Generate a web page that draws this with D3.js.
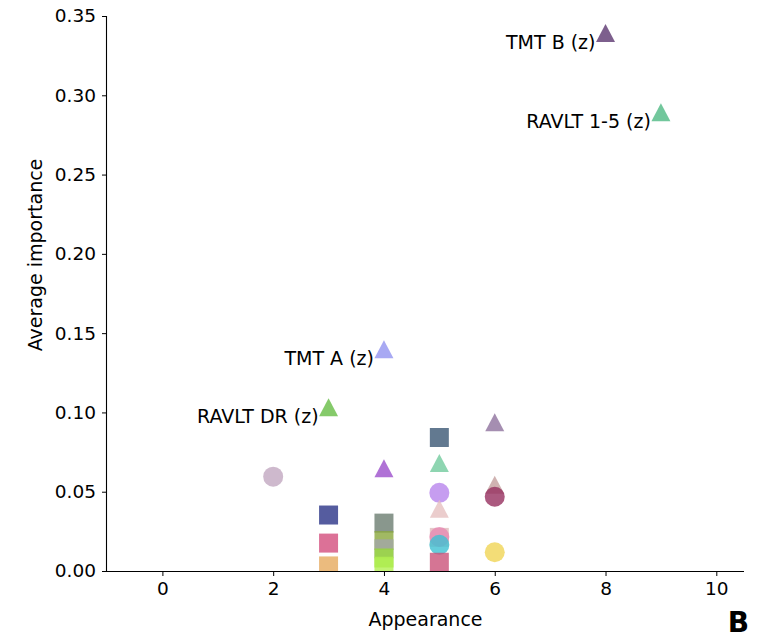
<!DOCTYPE html>
<html>
<head>
<meta charset="utf-8">
<script src="https://cdn.jsdelivr.net/npm/d3@7"></script>
<style>
  html, body { margin: 0; padding: 0; background: #fff; }
  svg { display: block; }
  text { font-family: "DejaVu Sans", sans-serif; fill: #000; }
</style>
</head>
<body>
<svg id="chart" width="762" height="638"></svg>
<script>
// Feature importance vs. number of appearances
const names = [
  "TMT B (z)", "RAVLT 1-5 (z)", "TMT A (z)", "RAVLT DR (z)",
  "", "", "", "",
  "", "", "", "", "", "",
  "", "", "", "", "", "", "", "",
  "", "", "", ""
];
const appearance = [
  8, 9, 4, 3,
  2, 3, 3, 3,
  4, 4, 4, 4, 4, 4,
  5, 5, 5, 5, 5, 5, 5, 5,
  6, 6, 6, 6
];
const importance = [
  0.339, 0.289, 0.1395, 0.103,
  0.0595, 0.0353, 0.0176, 0.0032,
  0.0645, 0.0302, 0.0192, 0.0140, 0.0082, 0.0030,
  0.0842, 0.0678, 0.0493, 0.0390, 0.0212, 0.0215, 0.0165, 0.0055,
  0.0935, 0.0540, 0.0468, 0.0118
];
const shapes = [
  "triangle", "triangle", "triangle", "triangle",
  "circle", "square", "square", "square",
  "triangle", "square", "square", "square", "square", "square",
  "square", "triangle", "circle", "triangle", "square", "circle", "circle", "square",
  "triangle", "triangle", "circle", "circle"
];
const colors = [
  "#5c3771", "#4fb983", "#9294f0", "#66bd45",
  "#c2a8c1", "#2a3387", "#d34e7d", "#e6aa5e",
  "#9c4fcc", "#6c7d71", "#8aa73c", "#a2a6a8", "#96d836", "#b2f050",
  "#3b5874", "#72cb9d", "#b884ec", "#e6c1c1", "#e0bcbc", "#e789b3", "#3fc1d2", "#cb5379",
  "#8e729d", "#c4a09f", "#96305f", "#f0d555"
];
const xTicks = [0, 2, 4, 6, 8, 10];
const yTicks = [0.00, 0.05, 0.10, 0.15, 0.20, 0.25, 0.30, 0.35];

const svg = d3.select("#chart");
const margin = { left: 107, right: 18, top: 16, bottom: 67 };
const W = 762, H = 638;

const x = d3.scaleLinear().domain([-1, 10.5]).range([margin.left, W - margin.right]);
const y = d3.scaleLinear().domain([0, 0.35]).range([H - margin.bottom, margin.top]);

svg.append("defs").append("clipPath").attr("id", "plotArea")
  .append("rect")
  .attr("x", margin.left).attr("y", margin.top)
  .attr("width", W - margin.left - margin.right)
  .attr("height", H - margin.top - margin.bottom);

// marker geometry
const half = 9.5;
function markerPath(shape) {
  if (shape === "square") {
    return `M${-half},${-half}H${half}V${half}H${-half}Z`;
  }
  return `M0,${-half}L${half},${half - 1}L${-half},${half - 1}Z`;
}

const pts = appearance.map((a, i) => ({
  x: a, y: importance[i], shape: shapes[i], color: colors[i], name: names[i]
}));

const g = svg.append("g").attr("clip-path", "url(#plotArea)");
pts.forEach(p => {
  const cx = x(p.x), cy = y(p.y);
  if (p.shape === "circle") {
    g.append("circle").attr("cx", cx).attr("cy", cy).attr("r", 10)
      .attr("fill", p.color).attr("fill-opacity", 0.8);
  } else {
    g.append("path").attr("d", markerPath(p.shape))
      .attr("transform", `translate(${cx},${cy})`)
      .attr("fill", p.color).attr("fill-opacity", 0.8);
  }
});

// labels for the main features
pts.filter(p => p.name).forEach(p => {
  svg.append("text")
    .attr("x", x(p.x) - 10)
    .attr("y", y(p.y) + 15.5)
    .attr("text-anchor", "end")
    .attr("font-size", "19px")
    .text(p.name);
});

// axes
const xAxis = d3.axisBottom(x).tickValues(xTicks).tickFormat(d3.format("d")).tickSize(5).tickPadding(6);
const yAxis = d3.axisLeft(y).tickValues(yTicks).tickFormat(d3.format(".2f")).tickSize(5).tickPadding(6);

const gx = svg.append("g").attr("transform", `translate(0,${H - margin.bottom})`).call(xAxis);
const gy = svg.append("g").attr("transform", `translate(${margin.left},0)`).call(yAxis);
[gx, gy].forEach(ax => {
  ax.selectAll("text").attr("font-size", "18.5px").attr("font-family", "DejaVu Sans, sans-serif").attr("fill", "#000");
  ax.selectAll("line").attr("stroke", "#000").attr("stroke-width", 1);
  ax.select(".domain").attr("stroke", "#000").attr("stroke-width", 1.1);
});
gx.select(".domain").attr("d", `M${margin.left},0.5H${W - margin.right}`);
gy.select(".domain").attr("d", `M-0.5,${margin.top}V${H - margin.bottom}`);

svg.append("text")
  .attr("x", (margin.left + W - margin.right) / 2)
  .attr("y", 626)
  .attr("text-anchor", "middle")
  .attr("font-size", "19px")
  .text("Appearance");

svg.append("text")
  .attr("transform", `translate(42,255) rotate(-90)`)
  .attr("text-anchor", "middle")
  .attr("font-size", "19px")
  .text("Average importance");

svg.append("text")
  .attr("x", 749)
  .attr("y", 632)
  .attr("text-anchor", "end")
  .attr("font-size", "28px")
  .attr("font-weight", "bold")
  .text("B");
</script>
</body>
</html>
